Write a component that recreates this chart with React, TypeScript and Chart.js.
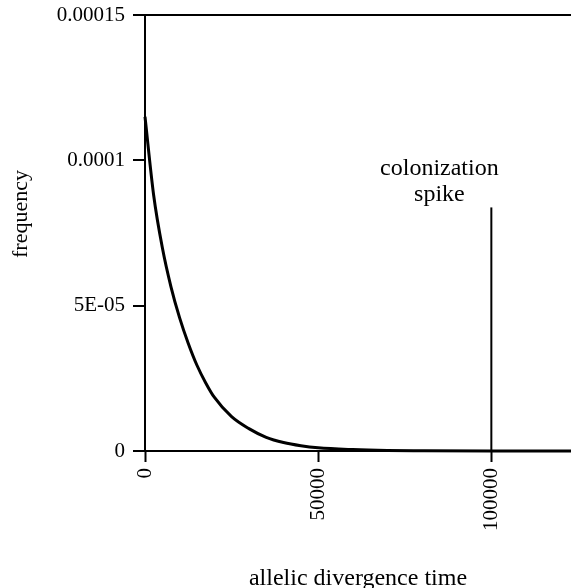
import { useEffect, useRef } from 'react';
import { Chart, registerables } from 'chart.js';
Chart.register(...registerables);

// ---- data ----
const xTickValues = [0, 50000, 100000];
const xTickLabels = ['0', '50000', '100000'];
const yTickValues = [0, 0.00005, 0.0001, 0.00015];
const yTickLabels = ['0', '5E-05', '0.0001', '0.00015'];

const curveTimes = [0, 2500, 5000, 7500, 10000, 12500, 15000, 17500, 20000, 25000, 30000, 35000, 40000, 45000, 50000, 60000, 70000, 80000, 100000, 123000];
const curveFreq = [0.000115, 0.000088, 0.00007, 0.0000565, 0.0000458, 0.000037, 0.0000295, 0.0000235, 0.0000185, 0.0000118, 0.0000077, 0.0000047, 0.0000029, 0.0000018, 0.0000011, 0.0000005, 0.0000002, 0.0000001, 0, 0];

const spikeTimes = [100000, 100000];
const spikeFreq = [0, 0.0000838];

const annotationLines = ['colonization', 'spike'];
const annotationX = 85000;
const annotationY = [0.0000948, 0.0000859];

const xTitle = 'allelic divergence time';
const yTitle = 'frequency';

const X_MAX = 123000;

export default function App() {
  const ref = useRef<HTMLCanvasElement>(null);
  useEffect(() => {
    const canvas = ref.current!;
    const serif = '"Liberation Serif", "Times New Roman", serif';
    const textPlugin = {
      id: 'textPlugin',
      afterDraw(chart: any) {
        const { ctx, scales } = chart;
        const x = scales.x, y = scales.y;
        ctx.save();
        ctx.fillStyle = '#000';
        ctx.font = `24px ${serif}`;
        ctx.textAlign = 'center';
        ctx.textBaseline = 'alphabetic';
        const ax = x.getPixelForValue(annotationX);
        annotationLines.forEach((t, i) => {
          ctx.fillText(t, ax, y.getPixelForValue(annotationY[i]));
        });
        // y title
        ctx.font = `22px ${serif}`;
        ctx.translate(21, 214);
        ctx.rotate(-Math.PI / 2);
        ctx.textBaseline = 'middle';
        ctx.fillText(yTitle, 0, 0);
        ctx.restore();
      },
    };

    const chart = new Chart(canvas, {
      type: 'scatter',
      data: {
        datasets: [
          {
            data: curveTimes.map((t, i) => ({ x: t, y: curveFreq[i] })),
            showLine: true,
            borderColor: '#000',
            borderWidth: 3,
            pointRadius: 0,
            cubicInterpolationMode: 'monotone',
            clip: false,
          } as any,
          {
            data: spikeTimes.map((t, i) => ({ x: t, y: spikeFreq[i] })),
            showLine: true,
            borderColor: '#000',
            borderWidth: 2,
            pointRadius: 0,
            tension: 0,
          },
        ],
      },
      options: {
        animation: false,
        responsive: false,
        maintainAspectRatio: false,
        layout: { padding: { left: 0, right: 0, top: 15, bottom: 0 } },
        plugins: { legend: { display: false }, tooltip: { enabled: false } },
        scales: {
          x: {
            type: 'linear',
            min: 0,
            max: X_MAX,
            afterBuildTicks: (s: any) => { s.ticks = xTickValues.map((v) => ({ value: v })); },
            afterFit: (s: any) => { s.height = 137; s.paddingLeft = 0; s.paddingRight = 0; },
            ticks: {
              callback: (_v: any, i: number) => xTickLabels[i],
              minRotation: 90,
              maxRotation: 90,
              padding: 6,
              color: '#000',
              font: { family: serif, size: 21 },
            },
            grid: { drawOnChartArea: false, drawTicks: true, tickLength: 11, tickColor: '#000', tickWidth: 2 },
            border: { display: true, color: '#000', width: 2 },
            title: {
              display: true,
              text: xTitle,
              color: '#000',
              font: { family: serif, size: 24, lineHeight: 0.8 },
              padding: { top: 0, bottom: 0 },
            },
          },
          y: {
            type: 'linear',
            min: 0,
            max: 0.00015,
            afterBuildTicks: (s: any) => { s.ticks = yTickValues.map((v) => ({ value: v })); },
            afterFit: (s: any) => { s.width = 145; s.paddingTop = 0; s.paddingBottom = 0; },
            ticks: {
              callback: (_v: any, i: number) => yTickLabels[i],
              padding: 8,
              color: '#000',
              font: { family: serif, size: 21 },
            },
            grid: {
              color: (c: any) => (c.tick && c.tick.value === 0.00015 ? '#000' : 'rgba(0,0,0,0)'),
              lineWidth: 2,
              drawTicks: true,
              tickLength: 12,
              tickColor: '#000',
              tickWidth: 2,
            },
            border: { display: true, color: '#000', width: 2 },
          },
        },
      },
      plugins: [textPlugin],
    });
    return () => chart.destroy();
  }, []);

  return (
    <div style={{ position: 'fixed', left: 0, top: 0, width: 571, height: 588, background: '#fff' }}>
      <canvas ref={ref} width={571} height={588} style={{ display: 'block', width: 571, height: 588 }} />
    </div>
  );
}
